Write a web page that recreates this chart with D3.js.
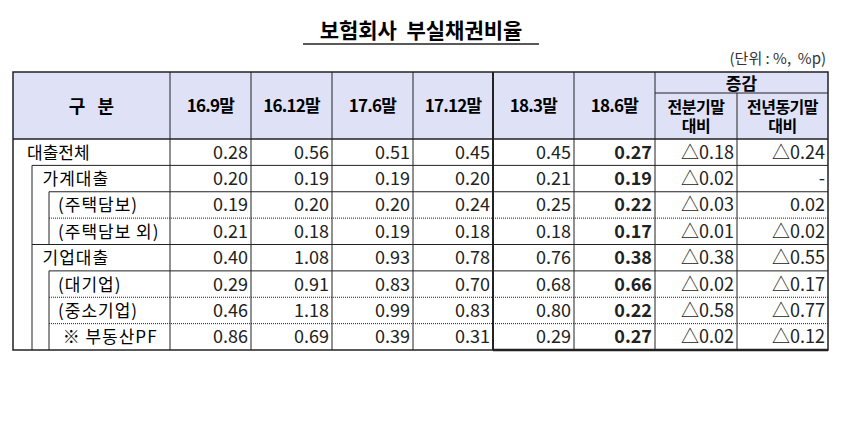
<!DOCTYPE html>
<html><head><meta charset="utf-8">
<script src="https://cdn.jsdelivr.net/npm/d3@7"></script>
<style>body{margin:0;background:#fff;}text{font-family:"Noto Sans CJK KR","Noto Sans",sans-serif;}</style>
</head><body><svg width="842" height="433"></svg>
<script>
var periods = ['16.9말', '16.12말', '17.6말', '17.12말', '18.3말', '18.6말'];
var rowLabels = ['대출전체', '가계대출', '(주택담보)', '(주택담보 외)', '기업대출', '(대기업)', '(중소기업)', '※ 부동산PF'];
var rowIndent = [0, 1, 2, 2, 1, 2, 2, 2.3];
var values = [
  [0.28, 0.56, 0.51, 0.45, 0.45, 0.27],
  [0.20, 0.19, 0.19, 0.20, 0.21, 0.19],
  [0.19, 0.20, 0.20, 0.24, 0.25, 0.22],
  [0.21, 0.18, 0.19, 0.18, 0.18, 0.17],
  [0.40, 1.08, 0.93, 0.78, 0.76, 0.38],
  [0.29, 0.91, 0.83, 0.70, 0.68, 0.66],
  [0.46, 1.18, 0.99, 0.83, 0.80, 0.22],
  [0.86, 0.69, 0.39, 0.31, 0.29, 0.27]
];
var qoqChange = ['△0.18', '△0.02', '△0.03', '△0.01', '△0.38', '△0.02', '△0.58', '△0.02'];
var yoyChange = ['△0.24', '-', '0.02', '△0.02', '△0.55', '△0.17', '△0.77', '△0.12'];

var svg = d3.select('svg');
var colEdges = [13, 170, 251, 332, 413, 493, 574, 655, 737, 828];
var tableTop = 72, headBottom = 139, bottom = 350;
var y = d3.scaleLinear().domain([0, rowLabels.length]).range([headBottom, bottom]);

function line(x1, y1, x2, y2, w, dash) {
  svg.append('line').attr('x1', x1).attr('y1', y1).attr('x2', x2).attr('y2', y2)
    .attr('stroke', '#222').attr('stroke-width', w || 1)
    .attr('stroke-dasharray', dash ? '1,1' : null);
}

// title
svg.append('text').attr('x', 421).attr('y', 38).attr('text-anchor', 'middle')
  .attr('font-size', 21).attr('font-weight', 'bold').attr('xml:space', 'preserve').text('보험회사  부실채권비율');
line(303, 44, 539, 44, 1.5);
svg.append('text').attr('x', 826).attr('y', 64).attr('text-anchor', 'end')
  .attr('font-size', 15).attr('fill', '#333').attr('xml:space', 'preserve').text('(단위 : %,  %p)');

// header
svg.append('rect').attr('x', colEdges[0]).attr('y', tableTop).attr('width', colEdges[9] - colEdges[0])
  .attr('height', headBottom - tableTop).attr('fill', '#dfe1f6');
var hy = (tableTop + headBottom) / 2;
svg.append('text').attr('x', (colEdges[0] + colEdges[1]) / 2).attr('y', hy + 7).attr('text-anchor', 'middle')
  .attr('font-size', 18).attr('font-weight', 'bold').attr('xml:space', 'preserve').text('구   분');
periods.forEach(function (p, i) {
  svg.append('text').attr('x', (colEdges[i + 1] + colEdges[i + 2]) / 2).attr('y', hy + 6)
    .attr('text-anchor', 'middle').attr('font-size', 17).attr('font-weight', 'bold')
    .attr('letter-spacing', -0.8).text(p);
});
svg.append('text').attr('x', (colEdges[7] + colEdges[9]) / 2).attr('y', 90).attr('text-anchor', 'middle')
  .attr('font-size', 17).attr('font-weight', 'bold').text('증감');
[['전분기말', '대비'], ['전년동기말', '대비']].forEach(function (t, i) {
  var cx = (colEdges[7 + i] + colEdges[8 + i]) / 2;
  t.forEach(function (s, j) {
    svg.append('text').attr('x', cx).attr('y', 113 + j * 19).attr('text-anchor', 'middle')
      .attr('font-size', 16).attr('font-weight', 'bold').attr('letter-spacing', -0.5).text(s);
  });
});

// body text
rowLabels.forEach(function (lab, r) {
  var cy = y(r + 0.5) + 6.5;
  svg.append('text').attr('x', 27 + rowIndent[r] * 15.5).attr('y', cy).attr('font-size', 17)
    .attr('letter-spacing', r === 0 ? 0 : 1).attr('xml:space', 'preserve').text(lab);
  values[r].forEach(function (v, i) {
    svg.append('text').attr('x', colEdges[i + 2] - 3).attr('y', cy).attr('text-anchor', 'end')
      .attr('font-size', 18).attr('font-weight', i === 5 ? 'bold' : null).attr('fill', '#222')
      .text(v.toFixed(2));
  });
  [qoqChange[r], yoyChange[r]].forEach(function (s, i) {
    svg.append('text').attr('x', colEdges[8 + i] - 3).attr('y', cy).attr('text-anchor', 'end')
      .attr('font-size', 18).attr('fill', '#222').text(s);
  });
});

// grid
var dotted = [3, 6, 7];
for (var r = 1; r < rowLabels.length; r++) {
  var x0 = (r === 1 || r === 4) ? 32 : 49;
  line(x0, y(r), colEdges[9], y(r), 1, dotted.indexOf(r) >= 0);
}
line(colEdges[7], 93, colEdges[9], 93, 1);
line(colEdges[0], headBottom, colEdges[9], headBottom, 1.3);
colEdges.slice(1, 9).forEach(function (x, i) {
  var t = (i === 7) ? 93 : tableTop;
  line(x, t, x, bottom, i === 4 ? 2 : 1);
});
line(32, y(1), 32, bottom, 1);
line(49, y(2), 49, y(4), 1);
line(49, y(5), 49, bottom, 1);
svg.append('rect').attr('x', colEdges[0]).attr('y', tableTop).attr('width', colEdges[9] - colEdges[0])
  .attr('height', bottom - tableTop).attr('fill', 'none').attr('stroke', '#222').attr('stroke-width', 1.5);
line(colEdges[5], bottom, colEdges[9], bottom, 2.5);
</script></body></html>
